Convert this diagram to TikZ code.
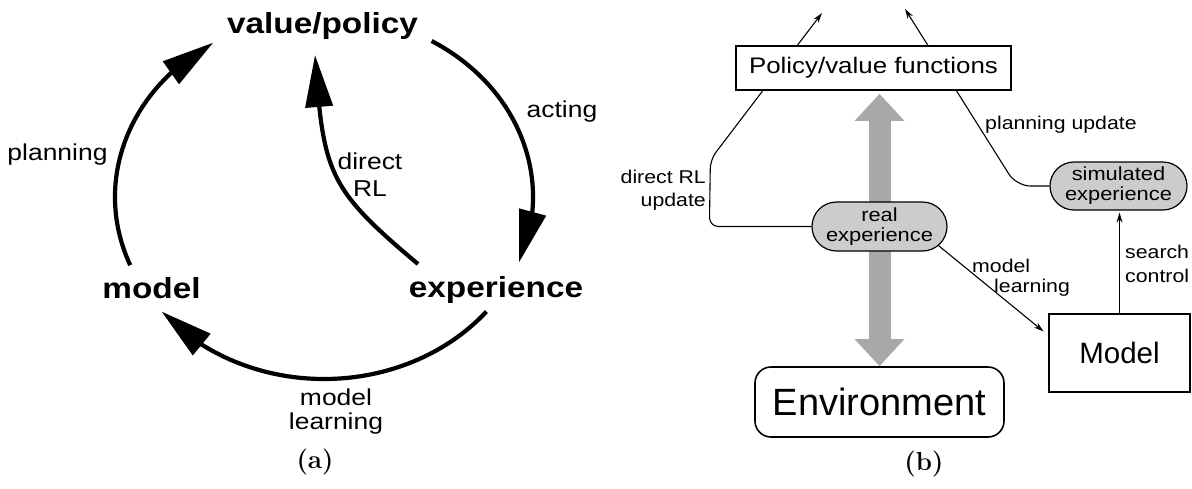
\documentclass[tikz,border=0pt]{standalone}
\usepackage{fontspec}
\newfontfamily\lab[FakeStretch=1.15]{Liberation Sans}
\newfontfamily\labn{Liberation Sans}
\usetikzlibrary{arrows.meta,bending,shapes.misc,calc,backgrounds}

\begin{document}
\begin{tikzpicture}[x=1pt,y=1pt,
  bigtxt/.style={font=\lab\bfseries\fontsize{29}{33}\selectfont, inner sep=0pt},
  cyc/.style={line width=4.2pt, -{Triangle[length=52pt,width=27pt]}},
  lbla/.style={font=\lab\fontsize{23}{26}\selectfont, inner sep=0pt, align=center},
  lblb/.style={font=\lab\fontsize{18.5}{23}\selectfont, inner sep=0pt},
  pill/.style={rounded rectangle, draw, line width=1.2pt, fill=gray!40,
    minimum width=135pt, minimum height=49pt, inner sep=0pt, align=center,
    font=\lab\fontsize{19}{20}\selectfont},
  boxb/.style={draw, line width=1.6pt, inner sep=0pt},
  conn/.style={line width=1.1pt, -{Stealth[length=10pt,width=6pt]}},
  captext/.style={font=\bfseries\fontsize{26}{28}\selectfont, inner sep=0pt}
]
\useasboundingbox (0,0) rectangle (1192,-488);

% ---------- (a) the Dyna cycle ----------
\node[bigtxt, anchor=base] (vp)  at (322.5,-33) {value/policy};
\node[bigtxt, anchor=base] (mod) at (151.5,-298) {model};
\node[bigtxt, anchor=base] (exp) at (496,-297) {experience};

\coordinate (c) at (324,-197);
\coordinate (pl0) at ($(c)+(202:209pt and 182pt)$);
\coordinate (ac0) at ($(c)+(59:209pt and 182pt)$);
\coordinate (ml0) at ($(c)+(-39:209pt and 182pt)$);
\coordinate (dr0) at (418,-264);
\coordinate (dr1) at (315,-55);

\draw[cyc] (pl0) arc[start angle=202, end angle=122, x radius=209pt, y radius=182pt];
\draw[cyc] (ac0) arc[start angle=59, end angle=-21, x radius=209pt, y radius=182pt];
\draw[cyc] (ml0) arc[start angle=-39, end angle=-141, x radius=209pt, y radius=182pt];
\draw[cyc] (dr0) to[out=140, in=-86, looseness=1.3] (dr1);

\node[lbla, anchor=base] (plan) at (57.5,-160) {planning};
\node[lbla, anchor=base] (act)  at (562,-117) {acting};
\node[lbla, anchor=north, font=\lab\fontsize{23}{27}\selectfont] (drl) at (370,-153) {direct\\RL};
\node[lbla, anchor=north, font=\lab\fontsize{23}{23.5}\selectfont] (mlr) at (336,-389) {model\\learning};

\node[captext] (capa) at (315,-462) {(a)};

% ---------- (b) the Dyna architecture ----------
\node[boxb, fill=white, minimum width=275pt, minimum height=44pt,
      font=\lab\fontsize{22.5}{25}\selectfont] (pv) at (873.5,-68) {Policy/value functions};
\node[pill] (re) at (879.5,-226.5) {real\\experience};
\node[pill, minimum width=137pt, minimum height=48pt] (se) at (1118.5,-186) {simulated\\experience};
\node[boxb, rounded corners=16pt, minimum width=249pt, minimum height=70pt,
      font=\labn\fontsize{38}{40}\selectfont] (env) at (879.5,-402) {Environment};
\node[boxb, minimum width=141pt, minimum height=78pt,
      font=\labn\fontsize{29.5}{32}\selectfont] (md) at (1119.5,-353) {Model};

\coordinate (dtip) at (822,-13);
\coordinate (ptip) at (905,-9);

\begin{scope}[on background layer]
  \draw[line width=22pt, draw=gray!68,
        {Triangle[length=27pt,width=48pt]}-{Triangle[length=27pt,width=48pt]},
        shorten <=3pt]
    (re.north |- pv.south) -- (re.south |- env.north);
  \draw[conn, rounded corners=9pt] (re.west) -- ++(-102,0) -- ++(1,67) -- (dtip);
  \draw[conn, rounded corners=14pt] (se.west) -- ++(-33,0) -- (ptip);
\end{scope}

\draw[conn, shorten >=6pt] (re.-18) -- (md.166);
\draw[conn, shorten >=2pt] (md.north) -- (md.north |- se.south);

\node[lblb, align=right, anchor=north east] (drlu) at (706,-170) {direct RL\\update};
\node[lblb, anchor=base west] (plu) at (985,-129) {planning update};
\node[lblb, align=left, anchor=north west, font=\lab\fontsize{18.5}{20}\selectfont] (mlb) at (972,-259) {model\\\hspace*{22pt}learning};
\node[lblb, align=left, anchor=north west, font=\lab\fontsize{18.5}{24}\selectfont] (sc) at (1125,-245) {search\\control};

\node[captext] (capb) at (924,-464) {(b)};
\end{tikzpicture}
\end{document}
